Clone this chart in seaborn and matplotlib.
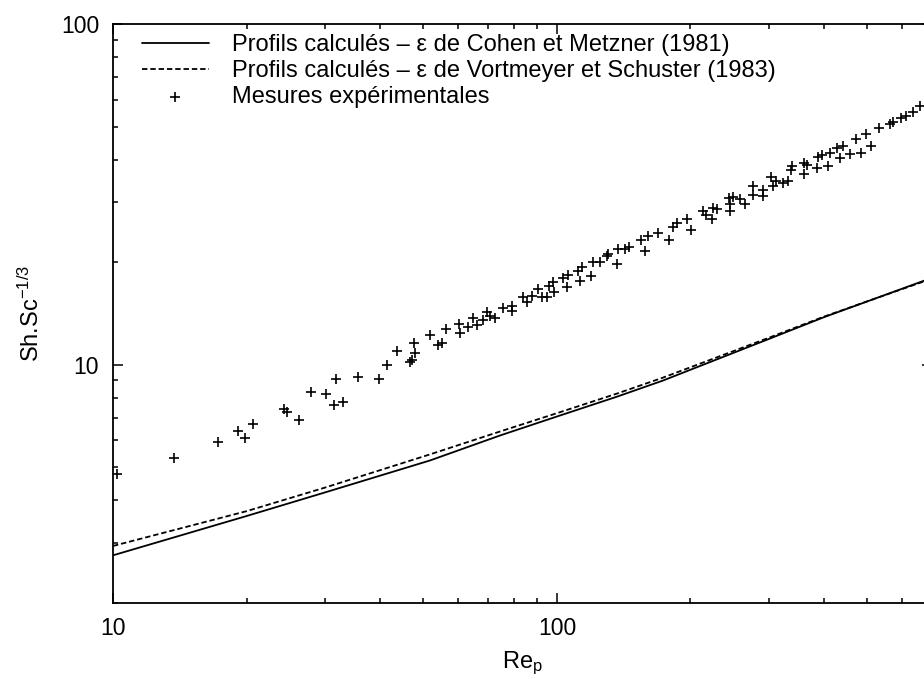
import matplotlib
matplotlib.use("Agg")
import matplotlib.pyplot as plt
import matplotlib.ticker as mticker
import seaborn as sns

# computed profiles (Re_p, Sh.Sc^-1/3)
re_line = [10, 20, 30, 51.8, 74.4, 100, 136.5, 173, 300, 400, 518, 700]
sh_cohen = [2.76, 3.60, 4.22, 5.24, 6.20, 7.05, 8.06, 8.98, 11.9, 13.8, 15.6, 18.0]
sh_vortmeyer = [2.94, 3.72, 4.36, 5.46, 6.37, 7.21, 8.23, 9.16, 12.0, 13.85, 15.6, 17.9]

# experimental measurements
re_exp = [10.2, 13.7, 17.2, 19.1, 19.8, 20.7, 24.3, 24.6, 26.2, 28.0, 30.2, 31.5, 33.0, 31.8,
          35.6, 39.7, 41.5, 43.6, 46.7, 47.1, 47.6, 47.9, 51.8, 54.0, 55.0, 56.2, 60.2, 60.5,
          63.1, 64.8, 66.0, 68.2, 69.5, 70.7, 72.5, 75.7, 79.1, 79.1, 83.7, 85.5, 87.7, 90.8,
          92.4, 94.8, 96.1, 97.8, 98.5, 103.3, 105.5, 106.0, 111.7, 112.7, 113.7, 119.1, 120.7,
          125.0, 129.4, 130.5, 136.3, 137.5, 142.3, 145.5, 154.6, 157.8, 160.6, 169.1, 179.0,
          182.7, 186.0, 196.6, 200.1, 213.6, 216.6, 223.1, 224.9, 229.6, 244.3, 246.1, 245.2,
          249.5, 258.3, 265.1, 276.7, 276.7, 291.4, 291.4, 304.4, 307.0, 311.3, 323.3, 331.8,
          336.0, 337.8, 360.0, 360.0, 365.1, 384.6, 387.8, 394.7, 408.3, 412.0, 428.0, 434.0,
          441.5, 457.1, 471.5, 483.9, 498.3, 511.4, 532.0, 562.3, 572.0, 597.5, 613.1, 634.5,
          659.3]
sh_exp = [4.78, 5.34, 5.93, 6.38, 6.09, 6.69, 7.42, 7.29, 6.90, 8.32, 8.23, 7.64, 7.78, 9.10,
          9.22, 9.10, 10.0, 11.0, 10.2, 10.3, 11.6, 10.8, 12.2, 11.4, 11.6, 12.7, 13.2, 12.4,
          12.9, 13.7, 13.1, 13.5, 14.3, 13.9, 13.7, 14.7, 14.9, 14.4, 15.8, 15.3, 15.9, 16.7,
          15.8, 15.8, 17.0, 17.5, 16.3, 18.0, 16.9, 18.3, 18.9, 17.6, 19.3, 18.2, 20.0,
          20.0, 20.9, 21.1, 19.8, 21.8, 21.9, 22.2, 23.2, 21.6, 23.9, 24.4, 23.2,
          25.4, 26.1, 26.7, 24.9, 28.3, 27.6, 26.7, 28.9, 28.6, 30.9, 29.6, 28.3,
          31.1, 30.6, 29.7, 33.4, 31.5, 32.6, 31.3, 35.6, 33.4, 34.6, 34.2, 34.6,
          37.2, 38.3, 36.2, 39.1, 38.7, 37.9, 40.7, 41.4, 38.3, 41.9, 43.3, 40.5,
          43.8, 41.6, 46.0, 41.9, 47.7, 44.0, 49.5, 51.0, 51.5, 53.0, 53.8, 55.0,
          57.3]

lab_cohen = "Profils calculés – ε de Cohen et Metzner (1981)"
lab_vort = "Profils calculés – ε de Vortmeyer et Schuster (1983)"
lab_exp = "Mesures expérimentales"

sns.set_style("ticks")
plt.rcParams['font.family'] = ['Liberation Sans', 'DejaVu Sans']
plt.rcParams['mathtext.default'] = 'regular'
for k in ['text.color', 'axes.labelcolor', 'xtick.color', 'ytick.color', 'axes.edgecolor']:
    plt.rcParams[k] = 'black'

fig = plt.figure(figsize=(9.24, 6.79), dpi=100)
ax = fig.add_axes([113 / 924, 1 - 603 / 679, 819 / 924, 579 / 679])

sns.lineplot(x=re_line, y=sh_cohen, ax=ax, color='black', lw=1.3, label=lab_cohen)
sns.lineplot(x=re_line, y=sh_vortmeyer, ax=ax, color='black', lw=1.3,
             linestyle=(0, (3, 1.6)), label=lab_vort)
sns.scatterplot(x=re_exp, y=sh_exp, ax=ax, marker='+', s=60, color='black',
                linewidth=1.2, label=lab_exp)

ax.set_xscale('log')
ax.set_yscale('log')
ax.set_xlim(10, 700)
ax.set_ylim(2, 100)

fmt = mticker.FuncFormatter(lambda v, _: f"{v:g}")
for axis in (ax.xaxis, ax.yaxis):
    axis.set_major_formatter(fmt)
    axis.set_minor_formatter(mticker.NullFormatter())

ax.tick_params(which='both', direction='in', top=True, right=True, width=1.1, labelsize=16.5)
ax.tick_params(which='major', length=7, pad=10)
ax.tick_params(which='minor', length=3.5)
for sp in ax.spines.values():
    sp.set_linewidth(1.3)

ax.set_xlabel("Re$_{p}$", fontsize=17, labelpad=7)
ax.set_ylabel("Sh.Sc$^{-1/3}$", fontsize=17, labelpad=12)

ax.legend(loc='upper left', bbox_to_anchor=(0.035, 0.983), frameon=False, fontsize=17,
          handlelength=2.85, handletextpad=0.97, labelspacing=0.17, borderpad=0,
          borderaxespad=0)

fig.savefig("out.png", dpi=100)
